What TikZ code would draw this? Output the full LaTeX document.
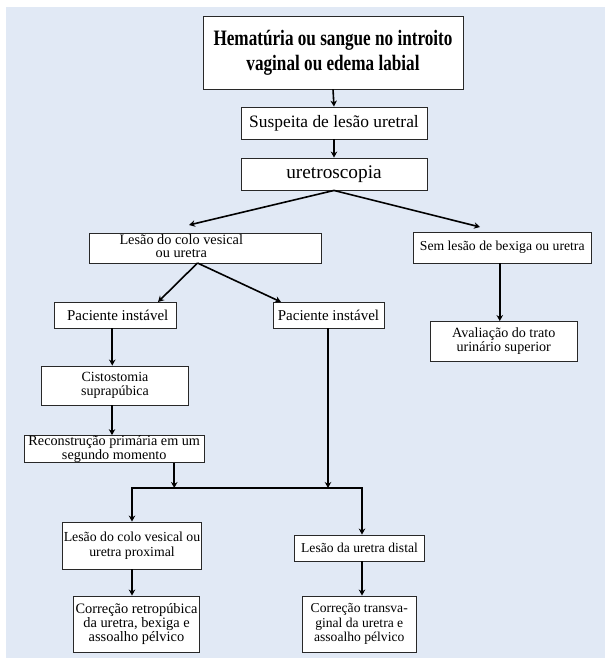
\documentclass[tikz,border=0pt]{standalone}
\usepackage{fontspec}
\setmainfont{Liberation Serif}
\newfontfamily\bodyfont{Liberation Serif}
\newfontfamily\tfont{Liberation Serif}[FakeStretch=0.78]
\usetikzlibrary{arrows.meta}
\definecolor{panel}{RGB}{225,233,245}
\definecolor{edge}{RGB}{40,40,40}
\tikzset{
  box/.style={draw=edge, fill=white, line width=0.9pt, inner sep=0pt, align=center},
  arr/.style={line width=1.6pt, -{Stealth[length=6pt,width=6.5pt]}},
  ln/.style={line width=1.6pt},
  fs/.style n args={2}{font=\bodyfont\fontsize{#1}{#2}\selectfont}
}
\begin{document}
\begin{tikzpicture}[x=1pt,y=-1pt]
\useasboundingbox (0,0) rectangle (605,660);
\fill[panel] (6,7) rectangle (605,658);

% boxes
\node[box, minimum width=260pt, minimum height=73pt, font=\tfont\bfseries\fontsize{22}{25}\selectfont] (top) at (333,52.5) {Hematúria ou sangue no introito\\vaginal ou edema labial};
\node[box, minimum width=186pt, minimum height=32pt, fs={17.4}{20}] (sus) at (334,123) {Suspeita de lesão uretral};
\node[box, minimum width=186pt, minimum height=32pt, fs={19.3}{22}] (ure) at (334,174) {uretroscopia};
\node[box, minimum width=231.5pt, minimum height=30pt, fs={14.3}{13.5}] (lc) at (205.25,248) {\begin{tabular}{@{}c@{}}Lesão do colo vesical\\ou uretra\end{tabular}\hspace{48pt}};
\node[box, minimum width=177.5pt, minimum height=31pt, fs={13.7}{15}] (sem) at (502.25,247.5) {Sem lesão de bexiga ou uretra};
\node[box, minimum width=122.5pt, minimum height=26pt, fs={15}{17}] (pl) at (115.25,315) {\hspace{5pt}Paciente instável};
\node[box, minimum width=111pt, minimum height=26pt, fs={15}{17}] (pm) at (328.5,315) {Paciente instável};
\node[box, minimum width=147.5pt, minimum height=39.5pt, fs={14.1}{13.3}] (av) at (503.75,341.25) {Avaliação do trato\\urinário superior};
\node[box, minimum width=147pt, minimum height=39pt, fs={14}{13.3}] (ci) at (115,385.5) {Cistostomia\\suprapúbica};
\node[box, minimum width=180.5pt, minimum height=26pt, fs={14.2}{12}] (re) at (114.25,449) {Reconstrução primária em um\\segundo momento};
\node[box, minimum width=139pt, minimum height=47pt, fs={13.8}{15}] (lp) at (132,545.5) {Lesão do colo vesical ou\\uretra proximal};
\node[box, minimum width=130pt, minimum height=26pt, fs={13.6}{15}] (ld) at (359.5,548) {Lesão da uretra distal};
\node[box, minimum width=126pt, minimum height=56pt, fs={14.4}{14.3}] (cr) at (136.5,624) {Correção retropúbica\\da uretra, bexiga e\\assoalho pélvico};
\node[box, minimum width=114.5pt, minimum height=56pt, fs={13.6}{14.3}] (ct) at (359.25,624) {Correção transva-\\ginal da uretra e\\assoalho pélvico};

% free ends
\coordinate (c1) at (189,225);
\coordinate (c2) at (480,227);
\coordinate (c3) at (197.5,263);
\coordinate (c4) at (158,302);
\coordinate (c5) at (281,302);
\coordinate (jl) at (132,488);
\coordinate (jr) at (362,488);

% connectors
\draw[arr] (top.south) -- (sus.north);
\draw[arr] (sus.south) -- (ure.north);
\draw[arr] (ure.south) -- (c1);
\draw[arr] (ure.south) -- (c2);
\draw[arr] (c3) -- (c4);
\draw[arr] (c3) -- (c5);
\draw[arr] ([xshift=-3pt]pl.south) -- ([xshift=-3pt]pl.south |- ci.north);
\draw[arr] ([xshift=-3pt]ci.south) -- ([xshift=-3pt]ci.south |- re.north);
\draw[arr] ([xshift=-2.5pt]sem.south) -- ([xshift=-2.5pt]sem.south |- av.north);
\draw[arr] ([xshift=60pt]re.south) -- ([xshift=60pt]re.south |- jl);
\draw[arr] ([xshift=-0.5pt]pm.south) -- ([xshift=-0.5pt]pm.south |- jl);
\draw[ln, line join=miter] (jl) ++(0,2) -- (jl) -- (jr) -- ++(0,2);
\draw[arr] (jl) -- (lp.north);
\draw[arr] (jr) -- (jr |- ld.north);
\draw[arr] (lp.south) -- (lp.south |- cr.north);
\draw[arr] (jr |- ld.south) -- (jr |- ct.north);
\end{tikzpicture}
\end{document}
